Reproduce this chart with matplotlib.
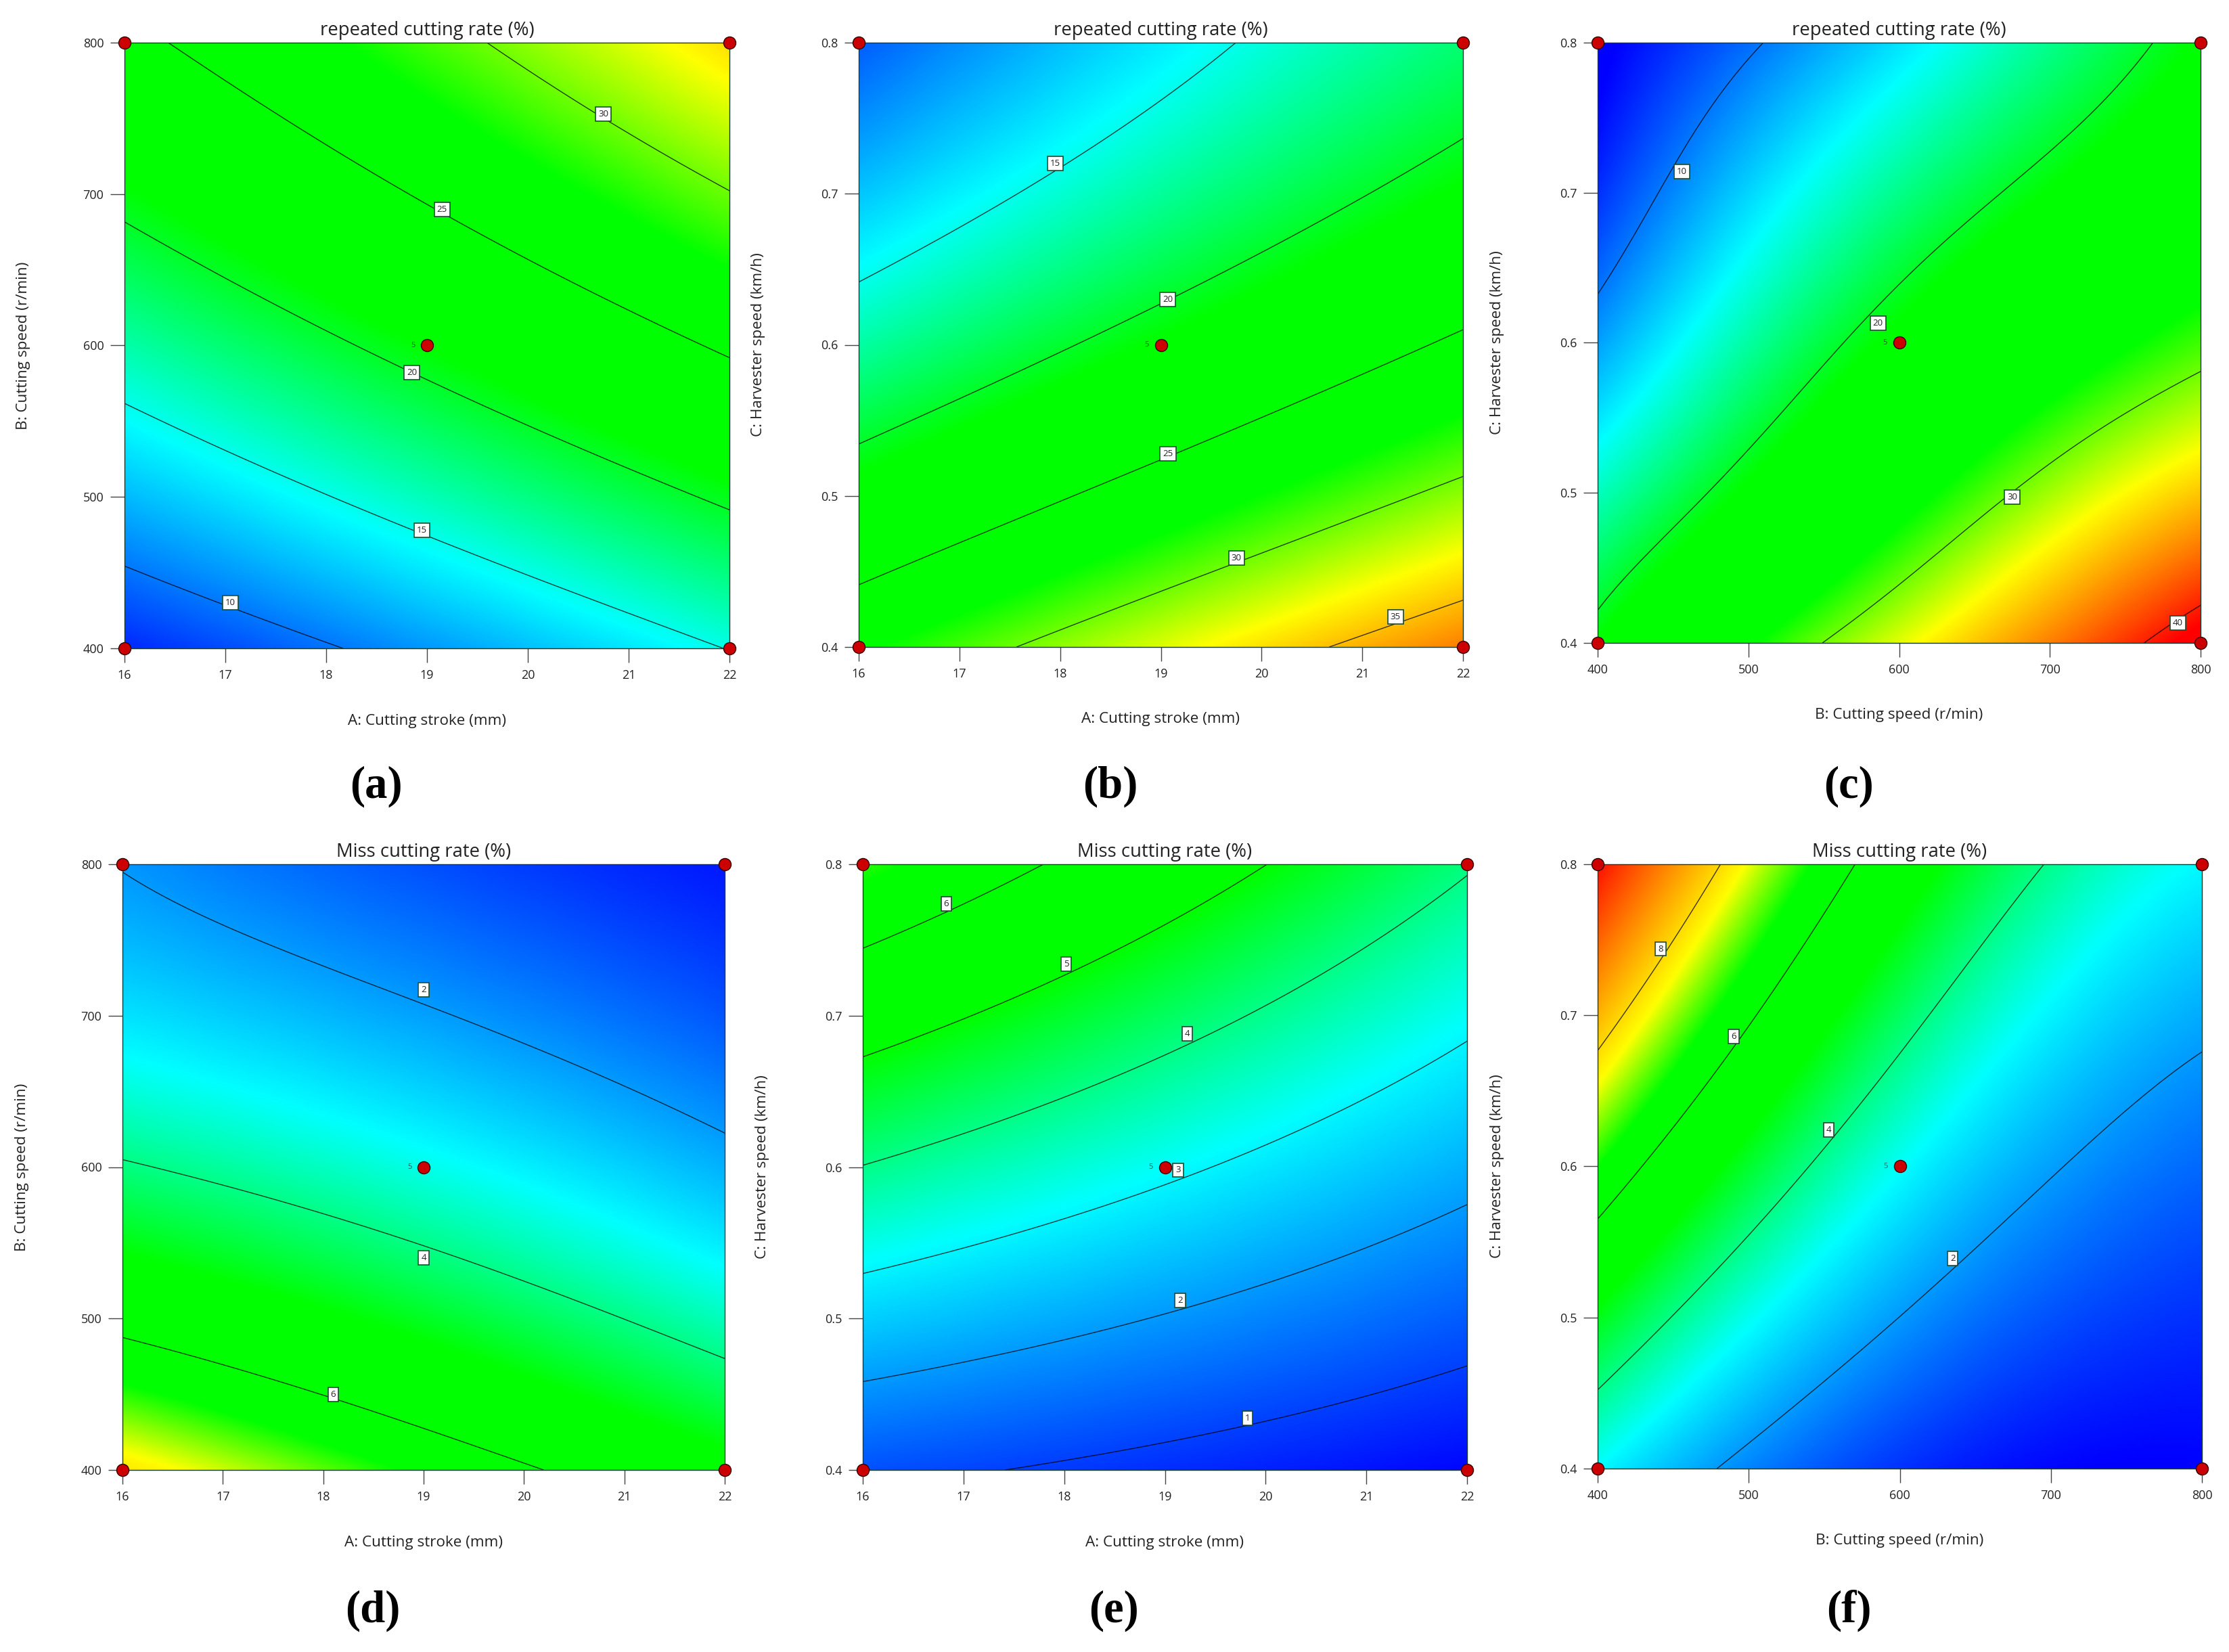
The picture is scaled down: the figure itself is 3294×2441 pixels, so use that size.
import matplotlib
matplotlib.use('Agg')
import matplotlib.pyplot as plt
from matplotlib.colors import LinearSegmentedColormap, Normalize
import numpy as np
from numpy.polynomial.polynomial import polyvander2d

plt.rcParams['font.family'] = ['Open Sans', 'DejaVu Sans']

# axis values
stroke = [16, 17, 18, 19, 20, 21, 22]
speed = [400, 500, 600, 700, 800]
harvester = [0.4, 0.5, 0.6, 0.7, 0.8]

stroke_label = 'A: Cutting stroke (mm)'
speed_label = 'B: Cutting speed (r/min)'
harvester_label = 'C: Harvester speed (km/h)'
repeated_title = 'repeated cutting rate (%)'
miss_title = 'Miss cutting rate (%)'

# response values, one row per y tick, bottom row first
z_a = [[7.3, 8.6, 9.7, 11.0, 12.55, 13.8, 15.0],
       [12.2, 13.5, 14.85, 16.15, 17.7, 19.1, 20.4],
       [16.65, 18.15, 19.66, 21.0, 22.5, 23.95, 25.4],
       [20.7, 22.2, 23.85, 25.3, 26.75, 28.35, 29.9],
       [24.2, 25.95, 27.7, 29.0, 30.3, 32.4, 34.1]]
z_b = [[27.3, 29.2, 31.0, 32.25, 33.8, 35.75, 37.0],
       [21.7, 23.3, 24.67, 25.9, 27.75, 29.25, 30.8],
       [16.85, 18.45, 19.9, 21.2, 22.6, 24.05, 25.5],
       [12.6, 14.0, 15.75, 17.35, 18.7, 19.8, 21.25],
       [9.5, 10.25, 12.05, 13.9, 15.6, 17.0, 17.9]]
z_c = [[21.1, 27.2, 32.8, 36.8, 42.0],
       [16.2, 21.1, 26.9, 30.8, 34.8],
       [11.3, 17.2, 21.4, 26.0, 29.0],
       [7.5, 13.4, 17.0, 21.4, 24.4],
       [5.5, 9.6, 13.6, 17.4, 21.2]]
z_d = [[7.9, 7.4, 6.96, 6.55, 6.15, 5.7, 5.25],
       [5.77, 5.42, 5.06, 4.67, 4.3, 3.91, 3.56],
       [3.98, 3.78, 3.54, 3.27, 2.99, 2.66, 2.28],
       [2.9, 2.68, 2.42, 2.14, 1.83, 1.54, 1.26],
       [1.92, 1.66, 1.4, 1.14, 0.92, 0.72, 0.55]]
z_e = [[1.17, 1.07, 0.93, 0.78, 0.64, 0.5, 0.35],
       [2.6, 2.37, 2.15, 1.94, 1.77, 1.54, 1.28],
       [3.99, 3.72, 3.42, 3.13, 2.86, 2.56, 2.21],
       [5.375, 5.03, 4.66, 4.28, 3.95, 3.55, 3.15],
       [6.76, 6.36, 5.94, 5.44, 5.0, 4.53, 4.08]]
z_f = [[3.13, 1.68, 0.85, 0.5, 0.25],
       [4.86, 3.18, 1.93, 1.16, 0.8],
       [6.6, 4.7, 3.09, 2.11, 1.42],
       [8.37, 6.26, 4.26, 3.0, 2.25],
       [10.2, 7.6, 5.47, 3.78, 3.1]]

# contour levels
levels_a = [10, 15, 20, 25, 30]
levels_b = [15, 20, 25, 30, 35]
levels_c = [10, 20, 30, 40]
levels_d = [2, 4, 6]
levels_e = [1, 2, 3, 4, 5, 6]
levels_f = [2, 4, 6, 8]

# where the white contour tags sit
tags_a = [(17.05, 430, '10'), (18.95, 478, '15'), (18.85, 582, '20'), (19.15, 690, '25'), (20.75, 753, '30')]
tags_b = [(17.95, 0.72, '15'), (19.07, 0.63, '20'), (19.07, 0.528, '25'), (19.75, 0.459, '30'), (21.33, 0.42, '35')]
tags_c = [(455.7, 0.714, '10'), (586, 0.613, '20'), (675, 0.497, '30'), (785, 0.4135, '40')]
tags_d = [(19, 717, '2'), (19, 540, '4'), (18.1, 450, '6')]
tags_e = [(16.83, 0.774, '6'), (18.02, 0.734, '5'), (19.22, 0.688, '4'), (19.13, 0.598, '3'), (19.15, 0.512, '2'), (19.82, 0.434, '1')]
tags_f = [(441.6, 0.744, '8'), (490, 0.686, '6'), (553, 0.624, '4'), (635, 0.539, '2')]

# colour stops, value -> colour
stops_repeated = [6, 14.5, 21, 27.7, 33, 41]
stops_miss = [0.3, 3.1, 5, 6.6, 7.6, 10.4]
stop_colors = ['#0000ff', '#00ffff', '#00ff00', '#00ff00', '#ffff00', '#ff0000']

# name, xs, ys, field, levels, tags, stops, title, xlabel, ylabel, box in pixels (left, right, top, bottom)
panels = [
    ('(a)', stroke, speed, z_a, levels_a, tags_a, stops_repeated, repeated_title, stroke_label, speed_label, (184, 1078, 63, 958)),
    ('(b)', stroke, harvester, z_b, levels_b, tags_b, stops_repeated, repeated_title, stroke_label, harvester_label, (1269, 2162, 63, 956)),
    ('(c)', speed, harvester, z_c, levels_c, tags_c, stops_repeated, repeated_title, speed_label, harvester_label, (2361, 3252, 63, 950)),
    ('(d)', stroke, speed, z_d, levels_d, tags_d, stops_miss, miss_title, stroke_label, speed_label, (181, 1071, 1277, 2172)),
    ('(e)', stroke, harvester, z_e, levels_e, tags_e, stops_miss, miss_title, stroke_label, harvester_label, (1275, 2168, 1277, 2172)),
    ('(f)', speed, harvester, z_f, levels_f, tags_f, stops_miss, miss_title, speed_label, harvester_label, (2361, 3254, 1277, 2170)),
]


def smooth_surface(xs, ys, field, deg=(2, 2), n=300):
    # least squares response surface through the table, evaluated on a fine mesh
    x0, x1, y0, y1 = xs[0], xs[-1], ys[0], ys[-1]
    X, Y = np.meshgrid((np.array(xs) - x0) / (x1 - x0), (np.array(ys) - y0) / (y1 - y0))
    A = polyvander2d(X.ravel(), Y.ravel(), deg)
    coef = np.linalg.lstsq(A, np.array(field, dtype=float).ravel(), rcond=None)[0]
    u, v = np.meshgrid(np.linspace(0, 1, n), np.linspace(0, 1, n))
    Z = (polyvander2d(u.ravel(), v.ravel(), deg) @ coef).reshape(u.shape)
    return x0 + u * (x1 - x0), y0 + v * (y1 - y0), Z


W, H = 3294, 2441
fig = plt.figure(figsize=(W / 100, H / 100), dpi=100, facecolor='white')

for name, xs, ys, field, levels, tags, stops, title, xlabel, ylabel, box in panels:
    left, right, top, bottom = box
    ax = fig.add_axes([left / W, 1 - bottom / H, (right - left) / W, (bottom - top) / H])

    # (c) bends more than a plain quadratic follows
    deg = (3, 3) if name == '(c)' else (2, 2)
    XX, YY, ZZ = smooth_surface(xs, ys, field, deg)

    low, high = stops[0], stops[-1]
    nodes = [(s - low) / (high - low) for s in stops]
    cmap = LinearSegmentedColormap.from_list('rate', list(zip(nodes, stop_colors)), N=1024)
    ax.pcolormesh(XX, YY, ZZ, shading='gouraud', cmap=cmap, norm=Normalize(low, high))
    ax.contour(XX, YY, ZZ, levels=levels, colors='black', linewidths=1.0, alpha=0.75)

    for tx, ty, label in tags:
        ax.text(tx, ty, label, ha='center', va='center', fontsize=9.5, color='#222222', zorder=5,
                bbox=dict(boxstyle='square,pad=0.3', facecolor='white', edgecolor='#1a4a30', linewidth=1.2))

    # design points
    px = [xs[0], xs[0], xs[-1], xs[-1], xs[len(xs) // 2]]
    py = [ys[0], ys[-1], ys[0], ys[-1], ys[len(ys) // 2]]
    ax.plot(px, py, linestyle='none', marker='o', markersize=13, markerfacecolor='#cc0000',
            markeredgecolor='#300000', markeredgewidth=1.0, clip_on=False, zorder=6)
    ax.annotate('5', (px[-1], py[-1]), xytext=(-15, 0), textcoords='offset points', ha='center', va='center',
                fontsize=8, color='black', alpha=0.6, zorder=6)

    ax.set_xlim(xs[0], xs[-1])
    ax.set_ylim(ys[0], ys[-1])
    ax.set_xticks(xs)
    ax.set_yticks(ys)
    ax.set_yticklabels([str(v) for v in ys])
    ax.tick_params(direction='out', length=15, width=1.0, color='#444444', labelcolor='#222222',
                   labelsize=13, pad=7)
    for spine in ax.spines.values():
        spine.set_linewidth(1.0)
        spine.set_color('#1a3a30')

    ax.set_title(title, fontsize=19.8, color='#222222', pad=8)
    ax.set_xlabel(xlabel, fontsize=16.2, color='#222222')
    ax.set_ylabel(ylabel, fontsize=16.2, color='#222222')
    ax.xaxis.set_label_coords(0.5, -0.108)
    ax.yaxis.set_label_coords(-0.155, 0.5)

    # panel letters sit on one line per row
    letter_y = 1162 if top < 1000 else 2380
    fig.text(((left + right) / 2 - 75) / W, 1 - letter_y / H, name, ha='center', va='center', fontsize=48,
             fontweight='bold', family=['Liberation Serif', 'DejaVu Serif'], color='black')

plt.savefig('out.png', dpi=100)
plt.close()
